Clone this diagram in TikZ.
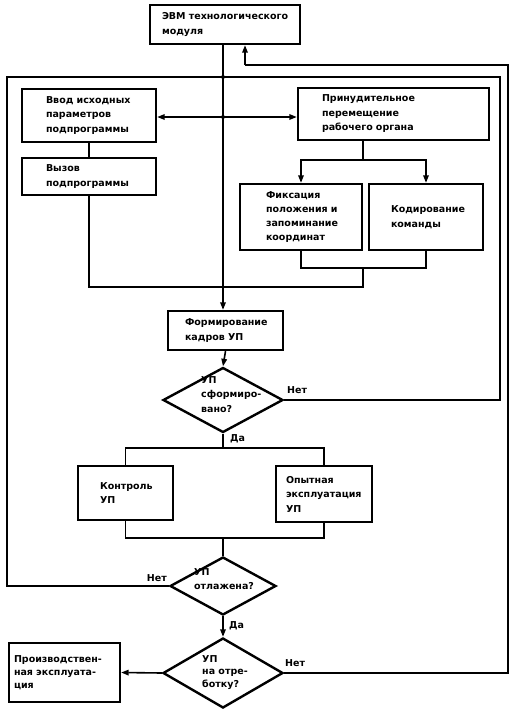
\documentclass[tikz,border=0pt]{standalone}
\usepackage{fontspec}
\setmainfont{DejaVu Sans}
\usetikzlibrary{shapes.geometric,arrows.meta,calc}
\begin{document}
\begin{tikzpicture}[x=1pt,y=-1pt,
  font=\bfseries\fontsize{9.5}{14.5}\selectfont,
  box/.style={draw,line width=2.4pt,rectangle,inner ysep=0pt,align=left},
  dia/.style={draw,line width=2.4pt,diamond,inner sep=0pt},
  ln/.style={line width=1.6pt},
  arr/.style={ln,-{Triangle[length=7.5pt,width=5.5pt]}},
  dot/.style={circle,fill,inner sep=0pt,minimum size=4pt},
  lbl/.style={inner sep=0pt}]
\useasboundingbox (0,0) rectangle (518,721);
% boxes
\node[box,text width=126pt,inner xsep=12pt,minimum height=39pt] (evm) at (225,24.5) {ЭВМ~технологического\\модуля};
\node[box,text width=86pt,inner xsep=24pt,minimum height=53pt] (vvod) at (89,115.5) {Ввод~исходных\\параметров\\подпрограммы};
\node[box,text width=86pt,inner xsep=24pt,minimum height=37pt] (vyz) at (89,176.5) {Вызов\\подпрограммы};
\node[box,text width=143pt,inner xsep=24pt,minimum height=52pt] (prin) at (393.5,114) {Принудительное\\перемещение\\рабочего~органа};
\node[box,text width=70pt,inner xsep=26pt,minimum height=66pt,font=\bfseries\fontsize{9.5}{14}\selectfont] (fiks) at (301,217) {Фиксация\\положения~и\\запоминание\\координат};
\node[box,text width=70pt,inner xsep=22pt,minimum height=66pt] (kod) at (426,217) {Кодирование\\команды};
\node[box,text width=81pt,inner xsep=17pt,minimum height=39pt] (form) at (225.5,330.5) {Формирование\\кадров~УП};
\node[box,text width=51pt,inner xsep=22pt,minimum height=54pt] (kontr) at (125.5,493) {Контроль\\УП};
\node[box,text width=76pt,inner xsep=10pt,minimum height=56pt] (opyt) at (324,494) {Опытная\\эксплуатация\\УП};
\node[box,text width=101pt,inner xsep=5pt,minimum height=59pt,font=\bfseries\fontsize{9.5}{13}\selectfont] (proiz) at (64.5,672.5) {Производствен-\\ная~эксплуата-\\ция};
% diamonds
\node[dia,minimum width=120pt,minimum height=65pt] (d1) at (223,400) {};
\node[dia,minimum width=106pt,minimum height=58pt] (d2) at (223,586) {};
\node[dia,minimum width=120pt,minimum height=70pt] (d3) at (223,673) {};
\node[lbl,align=left,anchor=north west] (d1t) at (201,376) {УП\\сформиро-\\вано?};
\node[lbl,align=left,anchor=north west] (d2t) at (194,568) {УП\\отлажена?};
\node[lbl,align=left,anchor=north west,font=\bfseries\fontsize{9.5}{12.8}\selectfont] (d3t) at (202,655) {УП\\на~отре-\\ботку?};
% coordinates
\coordinate (j1) at (223,77);
\coordinate (j2) at (223,117);
\node[dot] at (j1) {};
\node[dot] at (j2) {};
% main line
\draw[arr] (evm.south -| j1) -- (form.north -| j1);
% double arrow
\draw[arr] (j2) -- (vvod.east |- j2);
\draw[arr] (j2) -- (prin.west |- j2);
% left column
\draw[ln] (vvod.south) -- (vyz.north);
\draw[ln] (vyz.south) -- (vyz.south |- 0,287) -- (fiks.east |- 0,287) -- (fiks.east |- 0,268);
\draw[ln] (fiks.south) |- (kod.south |- 0,268) -- (kod.south);
% fork top
\draw[ln] (prin.south -| fiks.east) -- (fiks.east |- 0,160);
\draw[arr] (fiks.east |- 0,160) -| (fiks.north);
\draw[arr] (fiks.east |- 0,160) -| (kod.north);
% form -> d1
\draw[arr] (form.south) -- (d1.north);
% d1 no
\draw[ln] (d1.east) -- (500,400) -- (500,77) -- (j1);
\node[lbl,anchor=south west] (n1) at (287,394) {Нет};
% d1 yes
\draw[ln] (d1.south) -- (223,448);
\draw[ln] (kontr.north) |- (opyt.north |- 0,448) -- (opyt.north);
\node[lbl,anchor=north west] (y1) at (230,434) {Да};
% join
\draw[ln] (kontr.south) |- (opyt.south |- 0,538) -- (opyt.south);
\draw[ln] (223,538) -- (d2.north);
% d2 no
\draw[ln] (d2.west) -- (7,586) -- (7,77) -- (j1);
\node[lbl,anchor=south east] (n2) at (167,582) {Нет};
% d2 yes
\draw[arr] (d2.south) -- (d3.north);
\node[lbl,anchor=west] (y2) at (229,626) {Да};
% d3 no
\draw[ln] (d3.east) -- (508,673) -- (508,65) -- (245,65);
\draw[arr] (245,65) -- (evm.south -| 245,0);
\node[lbl,anchor=south west] (n3) at (285,667) {Нет};
% d3 yes
\draw[arr] (d3.west) -- (proiz.east);
\end{tikzpicture}
\end{document}
